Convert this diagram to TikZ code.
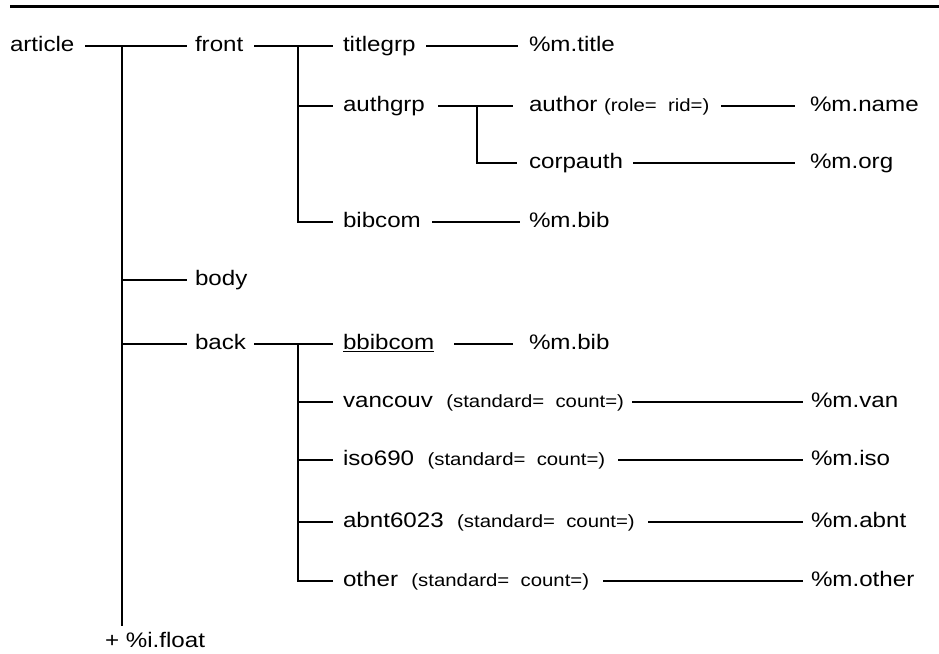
\documentclass[tikz,border=0pt]{standalone}
\usepackage{fontspec}
\setmainfont{Liberation Sans}[FakeStretch=1.15]
\newcommand\mylbl[3]{\makebox[#1pt][l]{\hspace*{#2pt}#3}}
\newcommand\smalltxt[1]{{\fontsize{17.7}{21}\selectfont #1}}
\tikzset{
  lab/.style={inner sep=0pt, outer sep=0pt, anchor=west, text height=15pt, text depth=4pt,
              font=\fontsize{21}{25}\selectfont},
  conn/.style={line width=2pt, line join=miter},
}
\begin{document}
\begin{tikzpicture}[x=1pt,y=-1pt]
\useasboundingbox (0,0) rectangle (939,653);
\draw[line width=3pt] (10,6) -- (939,6);

% level 0 and 1
\node[lab] (article) at (10,46) {\mylbl{75}{0}{article}};
\node[lab] (front) at (187,46) {\mylbl{67}{8}{front}};
\node[lab] (body) at (187,280) {\mylbl{60}{8}{body}};
\node[lab] (back) at (187,344) {\mylbl{67}{8}{back}};
\node[lab] (float) at (105,642) {+ \%i.float};
\coordinate (j1) at (122,46);

% front children
\node[lab] (titlegrp) at (333,46) {\mylbl{93}{10}{titlegrp}};
\node[lab] (mtitle) at (518,46) {\mylbl{100}{11}{\%m.title}};
\node[lab] (authgrp) at (333,106) {\mylbl{105}{10}{authgrp}};
\node[lab] (author) at (513,106) {\mylbl{208}{16}{author \smalltxt{(role=\ \ rid=)}}};
\node[lab] (mname) at (795,106) {\mylbl{120}{15}{\%m.name}};
\node[lab] (corpauth) at (517,163) {\mylbl{116}{12}{corpauth}};
\node[lab] (morg) at (795,163) {\mylbl{100}{15}{\%m.org}};
\node[lab] (bibcom) at (333,222) {\mylbl{99}{10}{bibcom}};
\node[lab] (mbiba) at (520,222) {\mylbl{100}{9}{\%m.bib}};
\coordinate (j2) at (298,46);
\coordinate (j3) at (477,106);

% back children
\node[lab] (bbibcom) at (333,344) {\mylbl{121}{10}{\underline{bbibcom}}};
\node[lab] (mbibb) at (513,344) {\mylbl{100}{16}{\%m.bib}};
\node[lab] (vancouv) at (333,402) {\mylbl{299}{10}{vancouv\ \ \smalltxt{(standard=\ \ count=)}}};
\node[lab] (mvan) at (803,402) {\mylbl{100}{8}{\%m.van}};
\node[lab] (iso) at (333,460) {\mylbl{285}{10}{iso690\ \ \smalltxt{(standard=\ \ count=)}}};
\node[lab] (miso) at (803,460) {\mylbl{100}{8}{\%m.iso}};
\node[lab] (abnt) at (333,522) {\mylbl{315}{10}{abnt6023\ \ \smalltxt{(standard=\ \ count=)}}};
\node[lab] (mabnt) at (803,522) {\mylbl{100}{8}{\%m.abnt}};
\node[lab] (other) at (333,581) {\mylbl{270}{10}{other\ \ \smalltxt{(standard=\ \ count=)}}};
\node[lab] (mother) at (803,581) {\mylbl{120}{8}{\%m.other}};
\coordinate (j4) at (298,344);

% connectors level 0
\draw[conn] (article.east) -- (front.west);
\draw[conn, shorten >=6.5pt] (j1) -- (j1 |- float.north);
\draw[conn] (j1 |- body.west) -- (body.west);
\draw[conn] (j1 |- back.west) -- (back.west);

% front
\draw[conn] (front.east) -- (titlegrp.west);
\draw[conn] (titlegrp.east) -- (mtitle.west);
\draw[conn] (j2) |- (bibcom.west);
\draw[conn] (j2 |- authgrp.west) -- (authgrp.west);
\draw[conn] (authgrp.east) -- (author.west);
\draw[conn] (j3) |- (corpauth.west);
\draw[conn] (author.east) -- (mname.west);
\draw[conn] (corpauth.east) -- (morg.west);
\draw[conn] (bibcom.east) -- (mbiba.west);

% back
\draw[conn] (back.east) -- (bbibcom.west);
\draw[conn] (bbibcom.east) -- (mbibb.west);
\draw[conn] (j4) |- (other.west);
\draw[conn] (j4 |- vancouv.west) -- (vancouv.west);
\draw[conn] (j4 |- iso.west) -- (iso.west);
\draw[conn] (j4 |- abnt.west) -- (abnt.west);
\draw[conn] (vancouv.east) -- (mvan.west);
\draw[conn] (iso.east) -- (miso.west);
\draw[conn] (abnt.east) -- (mabnt.west);
\draw[conn] (other.east) -- (mother.west);
\end{tikzpicture}
\end{document}
